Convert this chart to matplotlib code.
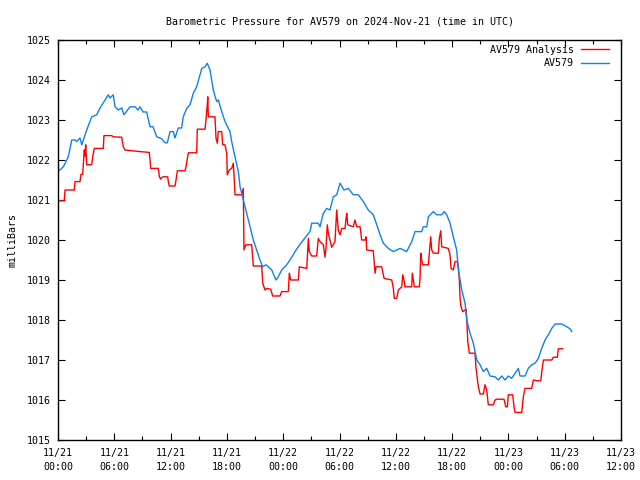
import matplotlib
matplotlib.use("Agg")
import matplotlib.pyplot as plt
import matplotlib.dates as mdates
import numpy as np
import pandas as pd

title = "Barometric Pressure for AV579 on 2024-Nov-21 (time in UTC)"
ylabel = "milliBars"
start = pd.Timestamp("2024-11-21 00:00")
end = pd.Timestamp("2024-11-23 12:00")

# AV579 (observed), hours since 11/21 00:00 UTC
obs_hours = [0.00, 0.57, 1.10, 1.46, 1.81, 1.99, 2.34, 2.53, 2.70, 3.06, 3.59, 4.12, 4.48, 5.01, 5.36, 5.54,
             5.89, 6.08, 6.43, 6.79, 7.03, 7.67, 8.21, 8.53, 8.74, 9.06, 9.45, 9.81, 10.13, 10.52, 11.05, 11.40,
             11.65, 11.94, 12.29, 12.47, 12.82, 13.18, 13.35, 13.72, 14.07, 14.42, 14.78, 15.13, 15.32, 15.67,
             15.91, 16.20, 16.38, 16.55, 16.91, 17.08, 17.45, 17.80, 18.33, 18.51, 18.86, 19.22, 19.40, 19.75,
             20.11, 20.46, 20.82, 21.18, 21.53, 21.82, 22.17, 22.41, 22.78, 23.23, 23.48, 23.84, 24.37, 24.73,
             25.26, 25.61, 26.14, 26.86, 27.04, 27.74, 27.92, 28.28, 28.64, 28.99, 29.34, 29.70, 30.06, 30.48,
             30.94, 31.47, 32.01, 32.54, 33.07, 33.60, 33.97, 34.32, 34.67, 35.20, 35.74, 36.45, 37.16, 37.70,
             38.05, 38.76, 38.93, 39.30, 39.47, 40.00, 40.36, 40.89, 41.17, 41.43, 41.78, 42.13, 42.49, 42.67,
             43.03, 43.38, 43.56, 43.91, 44.26, 44.63, 44.98, 45.33, 45.69, 46.04, 46.58, 46.93, 47.29, 47.64,
             47.99, 48.35, 48.71, 49.06, 49.24, 49.77, 50.12, 50.49, 50.84, 51.19, 51.55, 51.91, 52.26, 52.62,
             52.97, 53.68, 54.22, 54.57, 54.75]
obs_mb = [1021.71, 1021.83, 1022.08, 1022.50, 1022.50, 1022.46, 1022.55, 1022.38, 1022.50, 1022.75, 1023.08,
          1023.13, 1023.30, 1023.50, 1023.63, 1023.55, 1023.63, 1023.33, 1023.25, 1023.30, 1023.13, 1023.33,
          1023.33, 1023.25, 1023.33, 1023.20, 1023.20, 1022.83, 1022.83, 1022.58, 1022.53, 1022.43, 1022.43,
          1022.71, 1022.71, 1022.55, 1022.80, 1022.80, 1023.08, 1023.29, 1023.38, 1023.67, 1023.83, 1024.13,
          1024.29, 1024.33, 1024.42, 1024.25, 1024.00, 1023.75, 1023.46, 1023.50, 1023.21, 1022.96, 1022.71,
          1022.46, 1022.08, 1021.71, 1021.33, 1021.00, 1020.67, 1020.33, 1020.00, 1019.75, 1019.50, 1019.33,
          1019.38, 1019.33, 1019.25, 1019.00, 1019.08, 1019.25, 1019.38, 1019.50, 1019.71, 1019.83, 1020.00,
          1020.21, 1020.42, 1020.42, 1020.33, 1020.67, 1020.79, 1020.75, 1021.08, 1021.13, 1021.42, 1021.25,
          1021.29, 1021.13, 1021.13, 1020.96, 1020.75, 1020.63, 1020.38, 1020.13, 1019.92, 1019.79, 1019.71,
          1019.79, 1019.71, 1019.96, 1020.21, 1020.21, 1020.33, 1020.33, 1020.58, 1020.71, 1020.63, 1020.63,
          1020.71, 1020.63, 1020.42, 1020.08, 1019.75, 1019.25, 1018.75, 1018.42, 1018.00, 1017.67, 1017.42,
          1017.00, 1016.88, 1016.71, 1016.79, 1016.60, 1016.58, 1016.50, 1016.60, 1016.50, 1016.60, 1016.54,
          1016.67, 1016.79, 1016.60, 1016.60, 1016.79, 1016.88, 1016.92, 1017.04, 1017.29, 1017.50, 1017.63,
          1017.79, 1017.90, 1017.90, 1017.83, 1017.78, 1017.71]

# AV579 Analysis
ana_hours = [0.00, 0.67, 0.75, 1.74, 1.81, 2.34, 2.45, 2.63, 2.70, 2.80, 2.88, 2.95, 3.06, 3.59, 3.70, 3.87,
             4.83, 4.90, 5.72, 5.89, 6.79, 6.96, 7.14, 8.74, 9.73, 9.81, 9.88, 10.69, 10.80, 10.95, 11.05,
             11.22, 11.69, 11.76, 11.86, 12.47, 12.58, 12.72, 13.54, 13.64, 13.89, 14.78, 14.85, 15.67, 15.77,
             15.91, 15.96, 16.02, 16.73, 16.84, 16.98, 17.08, 17.45, 17.55, 17.80, 17.98, 18.04, 18.26, 18.51,
             18.68, 18.76, 18.86, 19.58, 19.75, 19.82, 20.01, 20.64, 20.82, 21.71, 21.82, 22.06, 22.24, 22.67,
             22.88, 23.66, 23.84, 24.55, 24.65, 24.80, 25.61, 25.72, 26.51, 26.68, 26.78, 27.04, 27.57, 27.74,
             27.92, 28.28, 28.46, 28.56, 28.70, 28.81, 29.17, 29.52, 29.70, 29.87, 30.06, 30.24, 30.59, 30.70,
             30.77, 30.88, 31.47, 31.65, 31.84, 32.19, 32.37, 32.72, 32.83, 32.90, 33.60, 33.79, 33.89, 34.50,
             34.75, 35.57, 35.74, 35.84, 36.10, 36.27, 36.63, 36.74, 36.88, 36.98, 37.70, 37.76, 37.87, 37.98,
             38.51, 38.58, 38.66, 38.76, 38.87, 39.47, 39.57, 39.72, 39.83, 40.00, 40.53, 40.64, 40.79, 40.89,
             41.60, 41.78, 41.89, 42.13, 42.31, 42.56, 42.67, 42.77, 42.85, 42.95, 43.13, 43.49, 43.56, 43.67,
             43.84, 44.44, 44.55, 44.80, 44.98, 45.33, 45.51, 45.69, 45.86, 46.39, 46.58, 46.76, 47.53, 47.72,
             47.89, 47.99, 48.46, 48.60, 48.71, 49.42, 49.59, 49.77, 50.49, 50.66, 51.02, 51.45, 51.58, 51.73,
             52.62, 52.79, 53.22, 53.32, 53.79]
ana_mb = [1020.98, 1020.98, 1021.25, 1021.25, 1021.46, 1021.46, 1021.64, 1021.64, 1021.88, 1022.25, 1022.10,
          1022.38, 1021.88, 1021.88, 1022.08, 1022.29, 1022.29, 1022.61, 1022.61, 1022.58, 1022.57, 1022.33,
          1022.25, 1022.21, 1022.19, 1022.00, 1021.79, 1021.79, 1021.58, 1021.52, 1021.56, 1021.58, 1021.58,
          1021.46, 1021.35, 1021.35, 1021.50, 1021.73, 1021.73, 1021.83, 1022.18, 1022.18, 1022.77, 1022.77,
          1023.00, 1023.38, 1023.58, 1023.08, 1023.08, 1022.54, 1022.42, 1022.71, 1022.71, 1022.38, 1022.38,
          1022.17, 1021.63, 1021.75, 1021.79, 1021.92, 1021.63, 1021.13, 1021.13, 1021.29, 1019.75, 1019.88,
          1019.88, 1019.35, 1019.35, 1018.92, 1018.75, 1018.79, 1018.77, 1018.60, 1018.60, 1018.71, 1018.71,
          1019.17, 1019.00, 1019.00, 1019.33, 1019.29, 1020.04, 1019.71, 1019.60, 1019.60, 1020.04, 1019.96,
          1019.88, 1019.57, 1019.79, 1020.38, 1020.17, 1019.82, 1019.96, 1020.75, 1020.25, 1020.13, 1020.29,
          1020.29, 1020.54, 1020.67, 1020.38, 1020.33, 1020.50, 1020.33, 1020.33, 1020.00, 1020.00, 1020.08,
          1019.75, 1019.73, 1019.17, 1019.33, 1019.33, 1019.04, 1019.00, 1018.79, 1018.54, 1018.54, 1018.75,
          1018.83, 1019.13, 1019.00, 1018.83, 1018.83, 1019.17, 1019.00, 1018.83, 1018.83, 1019.04, 1019.67,
          1019.50, 1019.38, 1019.38, 1019.67, 1020.08, 1019.75, 1019.67, 1019.67, 1020.04, 1020.23, 1019.83,
          1019.79, 1019.63, 1019.29, 1019.25, 1019.46, 1019.46, 1019.33, 1019.00, 1018.54, 1018.33, 1018.21,
          1018.27, 1018.04, 1017.46, 1017.17, 1017.17, 1016.79, 1016.33, 1016.15, 1016.15, 1016.38, 1016.25,
          1015.88, 1015.88, 1016.00, 1016.02, 1016.02, 1015.83, 1015.83, 1016.13, 1016.13, 1015.83, 1015.69,
          1015.69, 1016.08, 1016.29, 1016.29, 1016.50, 1016.48, 1016.48, 1016.75, 1017.00, 1017.00, 1017.07,
          1017.07, 1017.28, 1017.28]

series_labels = ["AV579 Analysis", "AV579"]
series_colors = ["#ff0000", "#1080f0"]

mono = "DejaVu Sans Mono"
plt.rcParams["font.family"] = mono
plt.rcParams["font.size"] = 7

fig = plt.figure(figsize=(6.4, 4.8), dpi=100)
ax = fig.add_axes([58 / 640, 40 / 480, 563 / 640, 400 / 480])

t_ana = start + pd.to_timedelta(np.array(ana_hours), unit="h")
t_obs = start + pd.to_timedelta(np.array(obs_hours), unit="h")

ax.plot(t_ana, ana_mb, color=series_colors[0], lw=1.0, label=series_labels[0])
ax.plot(t_obs, obs_mb, color=series_colors[1], lw=1.0, label=series_labels[1])

ax.set_xlim(start, end)
ax.set_ylim(1015, 1025)
ax.set_yticks(np.arange(1015, 1026, 1))
ax.xaxis.set_major_locator(mdates.HourLocator(byhour=[0, 6, 12, 18]))
ax.xaxis.set_minor_locator(mdates.HourLocator(byhour=[3, 9, 15, 21]))
ax.xaxis.set_major_formatter(mdates.DateFormatter("%m/%d\n%H:%M"))

ax.tick_params(which="both", direction="in", top=True, right=True, colors="black", labelsize=7.2)
ax.tick_params(which="major", length=5, width=0.8)
ax.tick_params(axis="x", which="major", pad=6)
ax.tick_params(axis="y", which="major", pad=5)
ax.tick_params(which="minor", length=3, width=0.8)
for lbl in ax.get_xticklabels():
    lbl.set_linespacing(1.45)
for s in ax.spines.values():
    s.set_linewidth(1.0)
    s.set_color("black")

ax.set_title(title, fontsize=7.2, pad=11)
ax.set_ylabel(ylabel, fontsize=7.2, labelpad=7)

ax.legend(loc="upper right", bbox_to_anchor=(609 / 563 - 58 / 563, 1 - 5 / 400), frameon=False,
          markerfirst=False, handlelength=2.8, handletextpad=0.7, borderpad=0, borderaxespad=0,
          labelspacing=0.35, fontsize=7.2)

fig.savefig("out.png", dpi=100)
